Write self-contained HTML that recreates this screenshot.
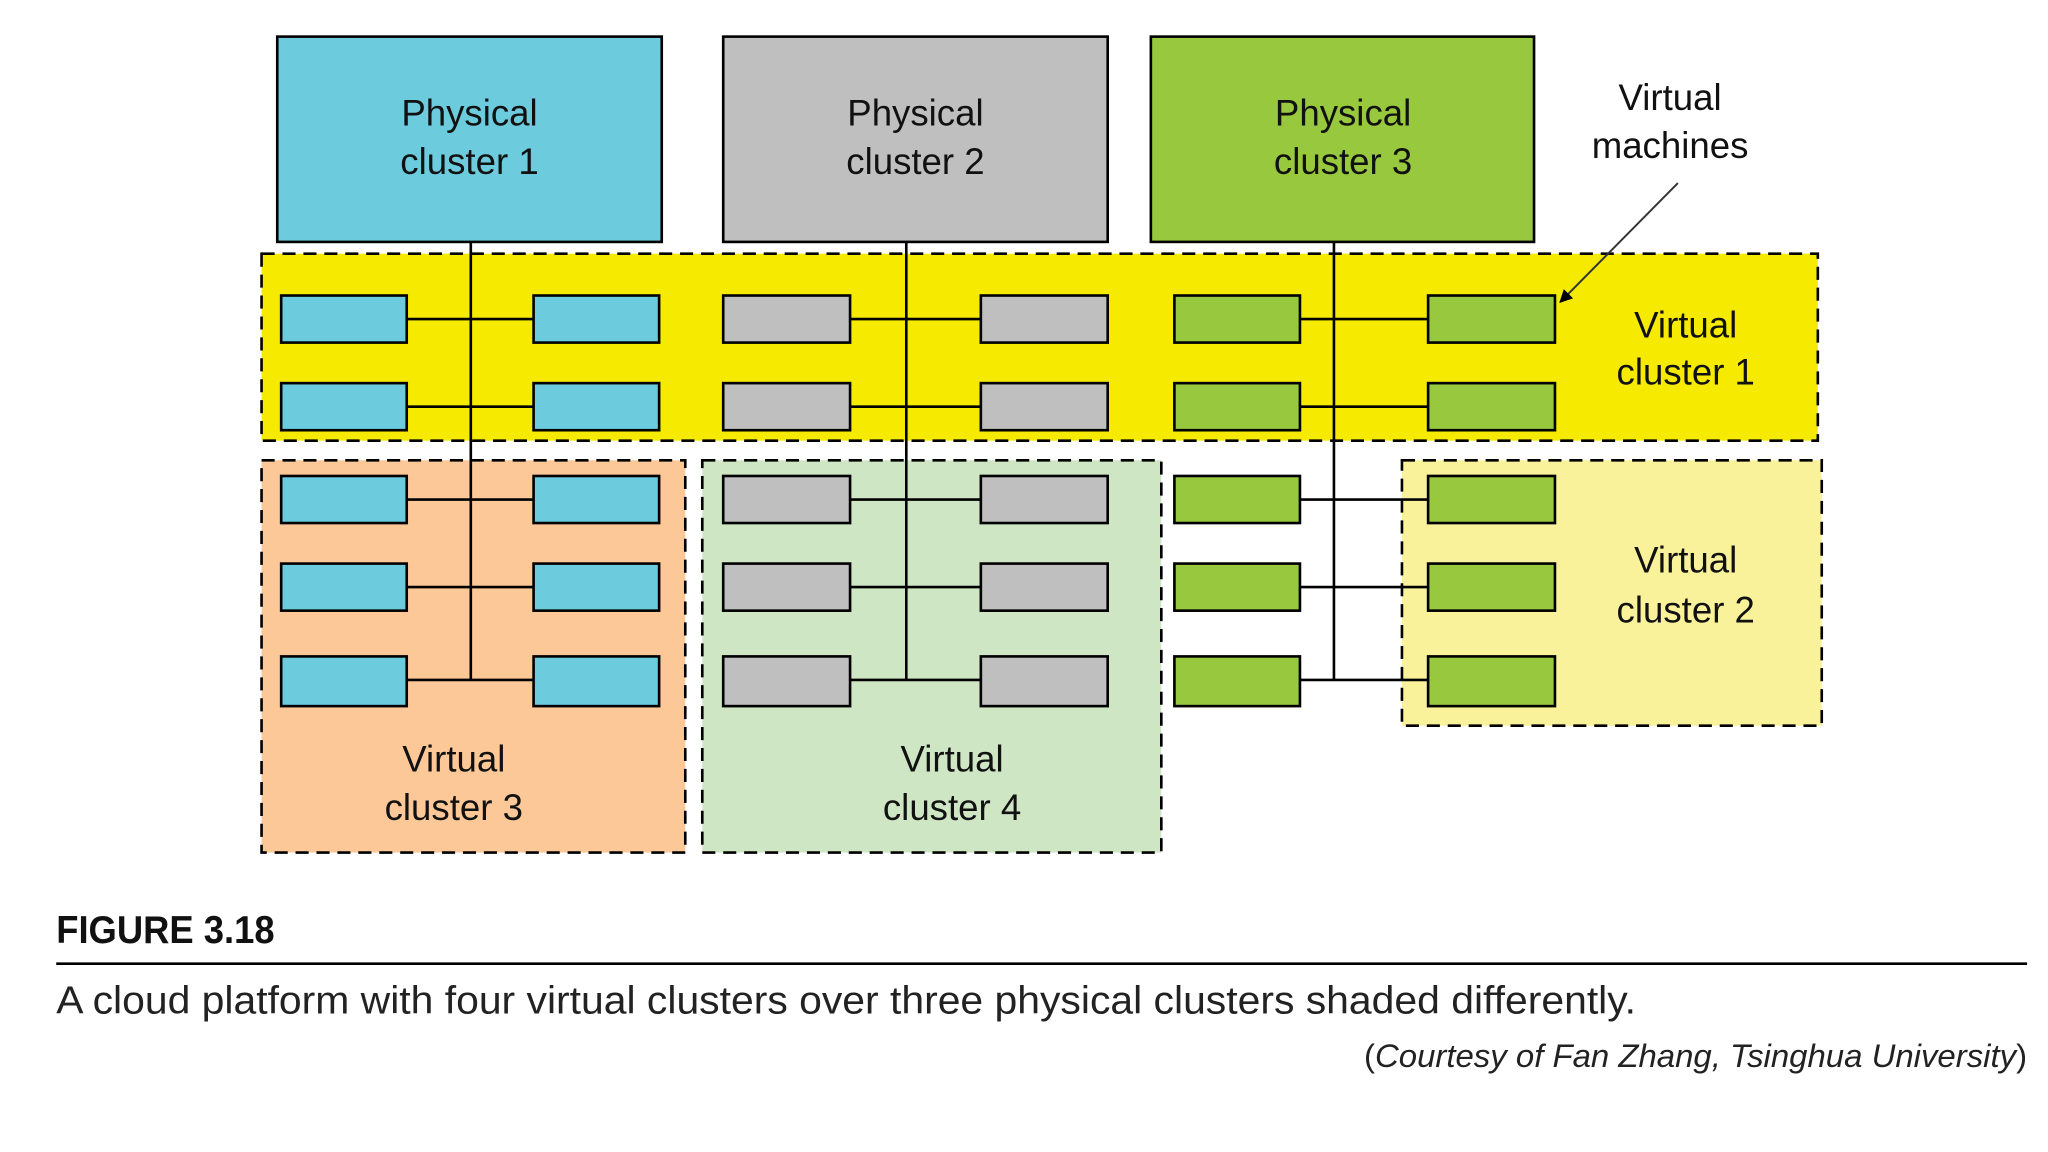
<!DOCTYPE html>
<html><head><meta charset="utf-8"><style>html,body{margin:0;padding:0;background:#fff;}svg{display:block}</style></head>
<body>
<svg width="2048" height="1152" viewBox="0 0 1566 881" preserveAspectRatio="none" xmlns="http://www.w3.org/2000/svg" font-family="Liberation Sans, sans-serif">
<defs>
<marker id="ah" markerWidth="10" markerHeight="10" refX="9" refY="5" orient="auto" markerUnits="userSpaceOnUse" viewBox="0 0 10 10"><path d="M0,0 L10,5 L0,10 z" fill="#000"/></marker>
</defs>
<g stroke="#000" stroke-width="2" stroke-dasharray="10,6">
<rect x="200" y="194" width="1190" height="143" fill="#f5ea00"/>
<rect x="200" y="352" width="324" height="300" fill="#fcc898"/>
<rect x="537" y="352" width="351" height="300" fill="#cfe6c4"/>
<rect x="1072" y="352" width="321" height="203" fill="#f9f29b"/>
</g>
<g stroke="#000" stroke-width="2">
<rect x="212" y="28" width="294" height="157" fill="#6ccbdc"/>
<rect x="553" y="28" width="294" height="157" fill="#c0bfc0"/>
<rect x="880" y="28" width="293" height="157" fill="#97c83e"/>
</g>
<g stroke="#000" stroke-width="2">
<line x1="360" y1="185" x2="360" y2="520"/>
<line x1="693" y1="185" x2="693" y2="520"/>
<line x1="1020" y1="185" x2="1020" y2="520"/>
<line x1="311" y1="244" x2="408" y2="244"/><line x1="311" y1="311" x2="408" y2="311"/>
<line x1="311" y1="382" x2="408" y2="382"/><line x1="311" y1="449" x2="408" y2="449"/><line x1="311" y1="520" x2="408" y2="520"/>
<line x1="650" y1="244" x2="750" y2="244"/><line x1="650" y1="311" x2="750" y2="311"/>
<line x1="650" y1="382" x2="750" y2="382"/><line x1="650" y1="449" x2="750" y2="449"/><line x1="650" y1="520" x2="750" y2="520"/>
<line x1="994" y1="244" x2="1092" y2="244"/><line x1="994" y1="311" x2="1092" y2="311"/>
<line x1="994" y1="382" x2="1092" y2="382"/><line x1="994" y1="449" x2="1092" y2="449"/><line x1="994" y1="520" x2="1092" y2="520"/>
</g>
<g stroke="#000" stroke-width="2">
<g fill="#6ccbdc">
<rect x="215" y="226" width="96" height="36"/><rect x="408" y="226" width="96" height="36"/>
<rect x="215" y="293" width="96" height="36"/><rect x="408" y="293" width="96" height="36"/>
<rect x="215" y="364" width="96" height="36"/><rect x="408" y="364" width="96" height="36"/>
<rect x="215" y="431" width="96" height="36"/><rect x="408" y="431" width="96" height="36"/>
<rect x="215" y="502" width="96" height="38"/><rect x="408" y="502" width="96" height="38"/>
</g>
<g fill="#c0bfc0">
<rect x="553" y="226" width="97" height="36"/><rect x="750" y="226" width="97" height="36"/>
<rect x="553" y="293" width="97" height="36"/><rect x="750" y="293" width="97" height="36"/>
<rect x="553" y="364" width="97" height="36"/><rect x="750" y="364" width="97" height="36"/>
<rect x="553" y="431" width="97" height="36"/><rect x="750" y="431" width="97" height="36"/>
<rect x="553" y="502" width="97" height="38"/><rect x="750" y="502" width="97" height="38"/>
</g>
<g fill="#97c83e">
<rect x="898" y="226" width="96" height="36"/><rect x="1092" y="226" width="97" height="36"/>
<rect x="898" y="293" width="96" height="36"/><rect x="1092" y="293" width="97" height="36"/>
<rect x="898" y="364" width="96" height="36"/><rect x="1092" y="364" width="97" height="36"/>
<rect x="898" y="431" width="96" height="36"/><rect x="1092" y="431" width="97" height="36"/>
<rect x="898" y="502" width="96" height="38"/><rect x="1092" y="502" width="97" height="38"/>
</g>
</g>
<line x1="1283" y1="140" x2="1193" y2="231" stroke="#333" stroke-width="1.5" marker-end="url(#ah)"/>
<g font-size="28" fill="#111" text-anchor="middle">
<text x="359" y="96">Physical</text><text x="359" y="133">cluster 1</text>
<text x="700" y="96">Physical</text><text x="700" y="133">cluster 2</text>
<text x="1027" y="96">Physical</text><text x="1027" y="133">cluster 3</text>
<text x="1277" y="84">Virtual</text><text x="1277" y="121">machines</text>
<text x="1289" y="258">Virtual</text><text x="1289" y="294">cluster 1</text>
<text x="1289" y="438">Virtual</text><text x="1289" y="476">cluster 2</text>
<text x="347" y="590">Virtual</text><text x="347" y="627">cluster 3</text>
<text x="728" y="590">Virtual</text><text x="728" y="627">cluster 4</text>
</g>
<text x="43" y="721" font-size="30" font-weight="bold" fill="#111" textLength="167" lengthAdjust="spacingAndGlyphs">FIGURE 3.18</text>
<line x1="43" y1="737" x2="1550" y2="737" stroke="#000" stroke-width="2"/>
<text x="43" y="775" font-size="30" fill="#222" textLength="1208" lengthAdjust="spacingAndGlyphs">A cloud platform with four virtual clusters over three physical clusters shaded differently.</text>
<text x="1043" y="816" font-size="25" fill="#222" textLength="507" lengthAdjust="spacingAndGlyphs">(<tspan font-style="italic">Courtesy of Fan Zhang, Tsinghua University</tspan>)</text>
</svg>
</body></html>
